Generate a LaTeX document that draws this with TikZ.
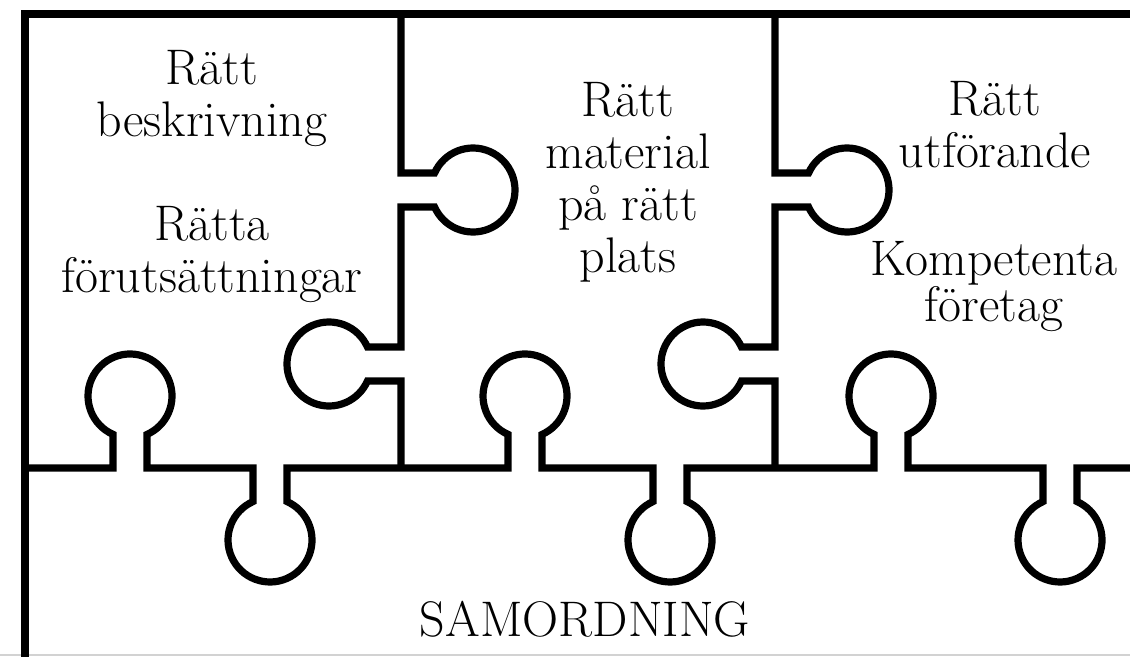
\documentclass[tikz,border=0pt]{standalone}
\usepackage{tikz}

\begin{document}
\begin{tikzpicture}[x=0.5pt, y=0.5pt,
	piece/.style={line width=3.6pt, line join=miter},
	txt/.style={font=\fontsize{25}{26}\selectfont, align=center, anchor=base, inner sep=0pt},
	knob up/.style={insert path={-- ++(0,33.6) arc[start angle=246.1, end angle=-66.1, radius=42] -- ++(0,-33.6)}},
	knob down/.style={insert path={-- ++(0,-33.6) arc[start angle=113.9, end angle=426.1, radius=42] -- ++(0,33.6)}},
	knob right/.style={insert path={-- ++(33.6,0) arc[start angle=156.1, end angle=-156.1, radius=42] -- ++(-33.6,0)}},
	knob left/.style={insert path={-- ++(-33.6,0) arc[start angle=23.9, end angle=336.1, radius=42] -- ++(33.6,0)}}]
	\useasboundingbox (0,0) rectangle (1130,657);
	\draw[gray!35, line width=0.8pt] (0,2) -- (1130,2);
	\draw[piece] (1135,643) -- (25,643) -- (25,-5);
	\draw[piece] (25,189) -- (113,189) [knob up] -- (253,189) [knob down] -- (508,189) [knob up] -- (653,189) [knob down] -- (874,189) [knob up] -- (1043,189) [knob down] -- (1135,189);
	\draw[piece] (401,643) -- (401,484) [knob right] -- (401,310) [knob left] -- (401,189);
	\draw[piece] (775,643) -- (775,484) [knob right] -- (775,310) [knob left] -- (775,189);
	\node[txt] (beskrivning) at (212,520) {Rätt\\beskrivning};
	\node[txt] (forutsattning) at (212,364) {Rätta\\förutsättningar};
	\node[txt] (material) at (628,384) {Rätt\\material\\på rätt\\plats};
	\node[txt] (utforande) at (995,489) {Rätt\\utförande};
	\node[txt, font=\fontsize{25}{19.5}\selectfont] (foretag) at (994,335) {Kompetenta\\företag};
	\node[txt] (samordning) at (585,20) {SAMORDNING};
\end{tikzpicture}
\end{document}
